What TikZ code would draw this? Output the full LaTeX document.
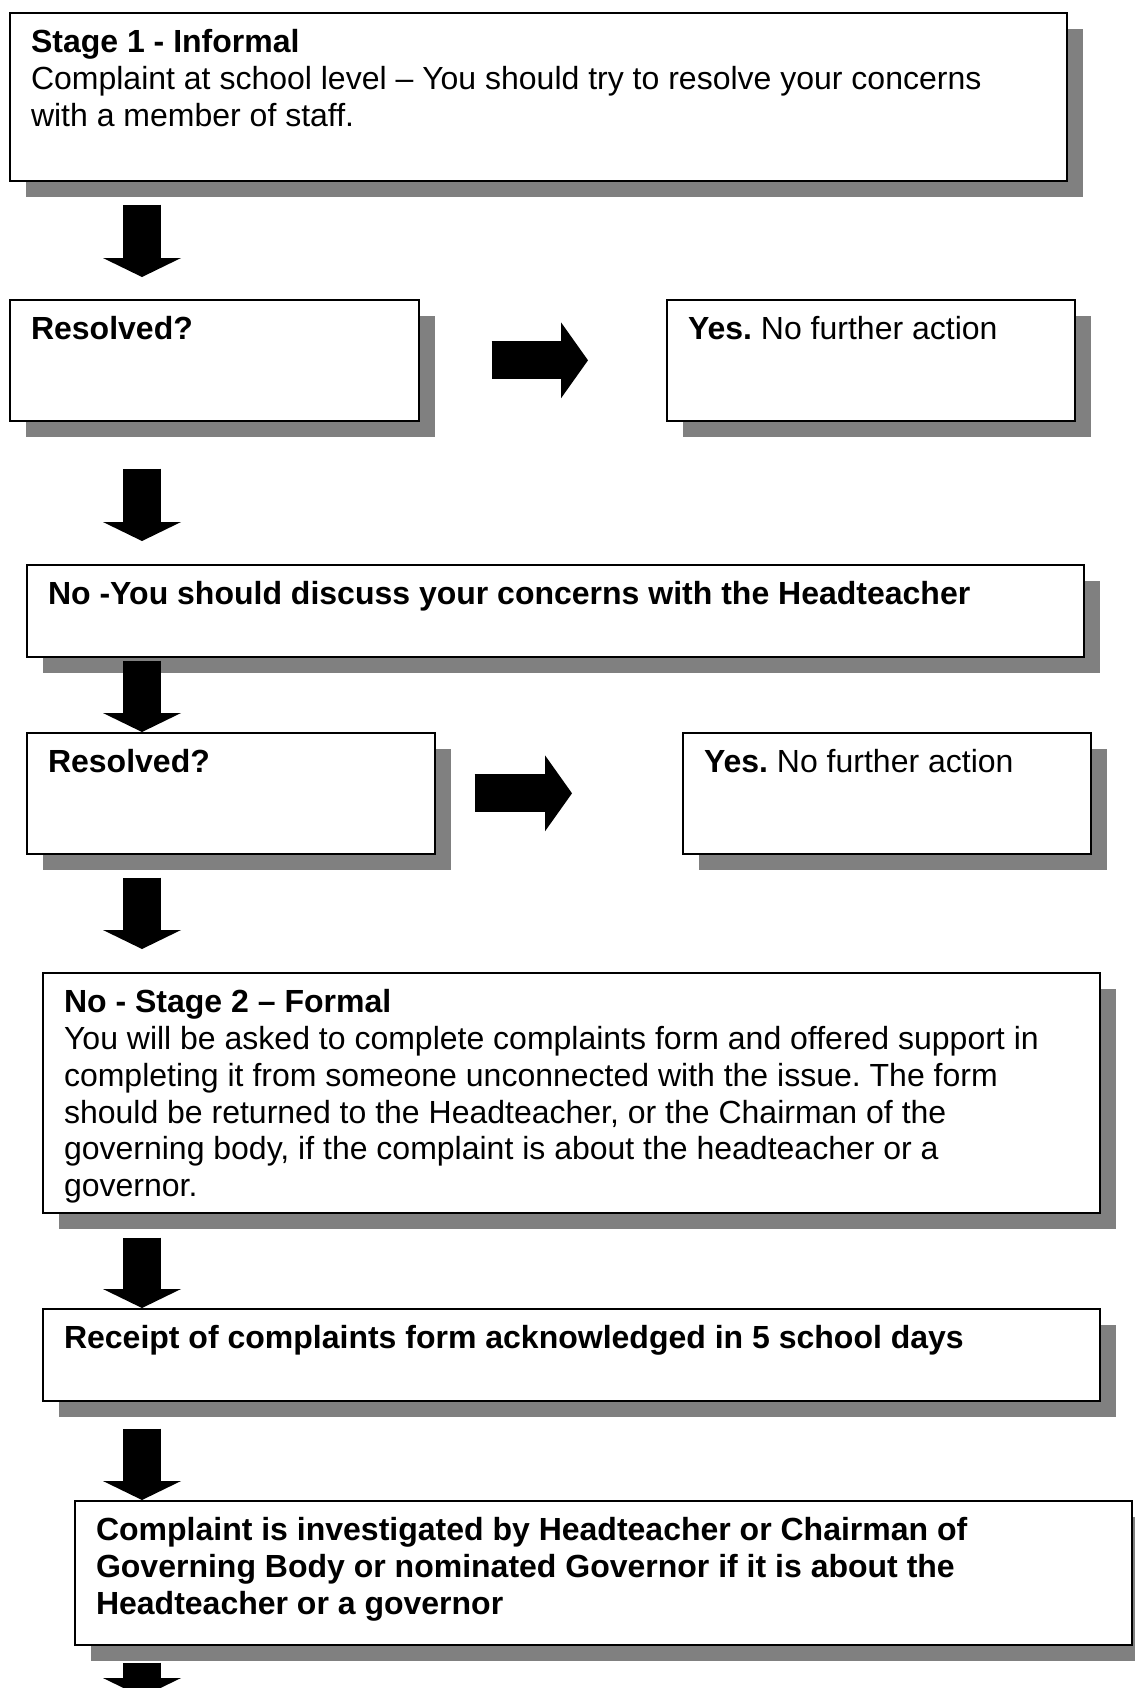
\documentclass[tikz,border=0pt]{standalone}
\usepackage{fontspec}
\setmainfont{Liberation Sans}
\usetikzlibrary{arrows.meta,shadows}
\newlength\pix
\setlength\pix{0.375pt}
\definecolor{shade}{RGB}{128,128,128}
\frenchspacing
\begin{document}
\begin{tikzpicture}[x=1\pix, y=-1\pix,
  stepbox/.style={draw,fill=white,line width=1.6\pix,anchor=north west,inner sep=0pt,
    drop shadow={shadow xshift=16\pix,shadow yshift=-16\pix,fill=shade,opacity=1}},
  txt/.style={anchor=north west,inner sep=0pt,align=left,font=\fontsize{12}{13.8}\selectfont},
  downarrow/.style={line width=38\pix,-{Triangle[width=29.25pt,length=7.125pt,line width=0pt]}},
  sidearrow/.style={line width=38\pix,-{Triangle[width=28.5pt,length=10.125pt,line width=0pt]}}]
              \useasboundingbox (0,0) rectangle (1135,1688);

              \node[stepbox,minimum width=1057\pix,minimum height=168\pix] (stage1) at (9,12) {};
              \node[stepbox,minimum width=409\pix,minimum height=121\pix] (res1) at (9,299) {};
              \node[stepbox,minimum width=408\pix,minimum height=121\pix] (yes1) at (666,299) {};
              \node[stepbox,minimum width=1057\pix,minimum height=92\pix] (head) at (26,564) {};
              \node[stepbox,minimum width=408\pix,minimum height=121\pix] (res2) at (26,732) {};
              \node[stepbox,minimum width=408\pix,minimum height=121\pix] (yes2) at (682,732) {};
              \node[stepbox,minimum width=1057\pix,minimum height=240\pix] (stage2) at (42,972) {};
              \node[stepbox,minimum width=1057\pix,minimum height=92\pix] (receipt) at (42,1308) {};
              \node[stepbox,minimum width=1057\pix,minimum height=144\pix] (invest) at (74,1500) {};

              \node[txt] (stage1txt) at ([shift={(21.5,17)}]stage1.north west) {\textbf{Stage 1 - Informal}\\
                Complaint at school level – You should try to resolve your concerns\\
                with a member of staff.};
              \node[txt] (res1txt) at ([shift={(21.5,17)}]res1.north west) {\textbf{Resolved?}};
              \node[txt] (yes1txt) at ([shift={(21.5,17)}]yes1.north west) {\textbf{Yes.} No further action};
              \node[txt] (headtxt) at ([shift={(21.5,17)}]head.north west) {\textbf{No -You should discuss your concerns with the Headteacher}};
              \node[txt] (res2txt) at ([shift={(21.5,17)}]res2.north west) {\textbf{Resolved?}};
              \node[txt] (yes2txt) at ([shift={(21.5,17)}]yes2.north west) {\textbf{Yes.} No further action};
              \node[txt] (stage2txt) at ([shift={(21.5,17)}]stage2.north west) {\textbf{No - Stage 2 – Formal}\\
                You will be asked to complete complaints form and offered support in\\
                completing it from someone unconnected with the issue. The form\\
                should be returned to the Headteacher, or the Chairman of the\\
                governing body, if the complaint is about the headteacher or a\\
                governor.};
              \node[txt] (receipttxt) at ([shift={(21.5,17)}]receipt.north west) {\textbf{Receipt of complaints form acknowledged in 5 school days}};
              \node[txt] (investtxt) at ([shift={(21.5,17)}]invest.north west) {\textbf{Complaint is investigated by Headteacher or Chairman of}\\
                \textbf{Governing Body or nominated Governor if it is about the}\\
                \textbf{Headteacher or a governor}};

              % block arrows
              \coordinate (ax) at (142,0);
              \coordinate (tail) at (142,1697);
              \draw[downarrow,shorten <=23\pix,shorten >=22\pix] (stage1.south -| ax) -- (res1.north -| ax);
              \draw[sidearrow,shorten <=72\pix,shorten >=78\pix] (res1.east) -- (yes1.west);
              \draw[downarrow,shorten <=47\pix,shorten >=23\pix] (res1.south -| ax) -- (head.north -| ax);
              \draw[downarrow,shorten <=3\pix] (head.south -| ax) -- (res2.north -| ax);
              \draw[sidearrow,shorten <=39\pix,shorten >=110\pix] (res2.east) -- (yes2.west);
              \draw[downarrow,shorten <=23\pix,shorten >=23\pix] (res2.south -| ax) -- (stage2.north -| ax);
              \draw[downarrow,shorten <=24\pix] (stage2.south -| ax) -- (receipt.north -| ax);
              \draw[downarrow,shorten <=27\pix] (receipt.south -| ax) -- (invest.north -| ax);
              \draw[downarrow,shorten <=17\pix] (invest.south -| ax) -- (tail);
            \end{tikzpicture}
\end{document}
